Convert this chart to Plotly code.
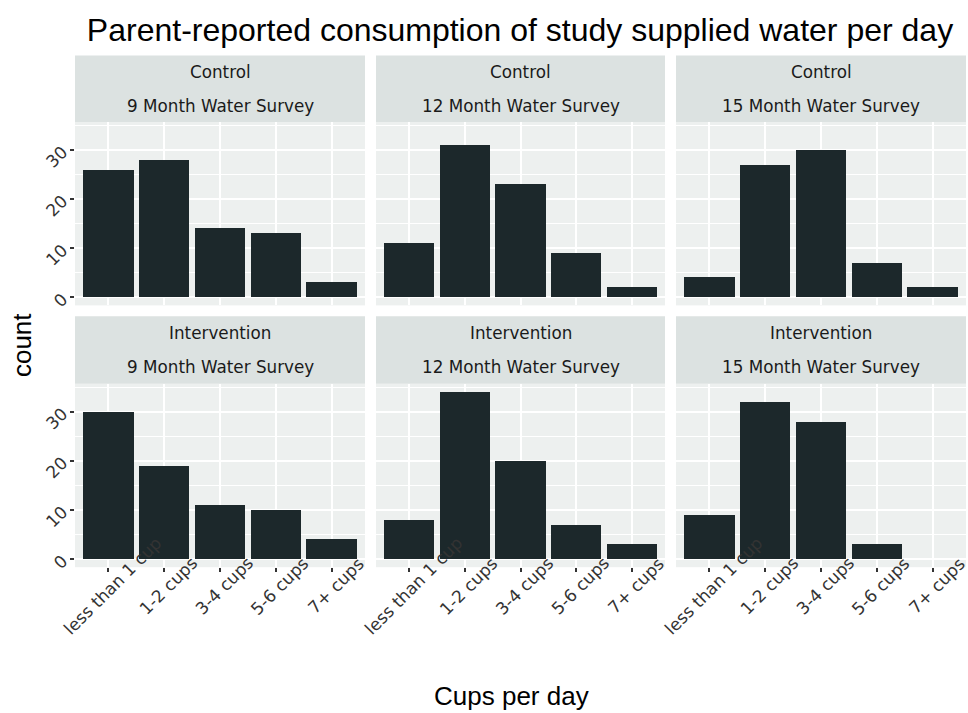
import plotly.graph_objects as go

# Categorías y conteos
categories = ["less than 1 cup", "1-2 cups", "3-4 cups", "5-6 cups", "7+ cups"]
surveys = ["9 Month Water Survey", "12 Month Water Survey", "15 Month Water Survey"]
groups = ["Control", "Intervention"]

control_9 = [26, 28, 14, 13, 3]
control_12 = [11, 31, 23, 9, 2]
control_15 = [4, 27, 30, 7, 2]
intervention_9 = [30, 19, 11, 10, 4]
intervention_12 = [8, 34, 20, 7, 3]
intervention_15 = [9, 32, 28, 3, None]

panels = [
    [control_9, control_12, control_15],
    [intervention_9, intervention_12, intervention_15],
]

W, H = 968, 713
BAR = "#1c282b"
PANEL_BG = "#edf0ef"
STRIP_BG = "#dce2e1"
TEXT = "#333333"

# Posiciones en píxeles de paneles y franjas
col_px = [(75, 365), (376, 665), (676, 966)]
row_px = [(123, 308), (387, 572)]
strip_px = [(56, 123), (319, 387)]


def px_x(p):
    return p / W


def px_y(p):
    return 1 - p / H


fig = go.Figure()
layout_axes = {}
shapes = []
annotations = []

for i, row in enumerate(panels):
    for j, values in enumerate(row):
        k = i * 3 + j + 1
        sfx = "" if k == 1 else str(k)
        fig.add_trace(go.Bar(
            x=categories, y=values, width=0.9,
            marker=dict(color=BAR, line=dict(width=0)),
            xaxis=f"x{sfx}", yaxis=f"y{sfx}", showlegend=False,
        ))
        bottom = i == 1
        left = j == 0
        layout_axes[f"xaxis{sfx}"] = dict(
            domain=[px_x(col_px[j][0]), px_x(col_px[j][1])],
            anchor=f"y{sfx}", type="category",
            categoryorder="array", categoryarray=categories,
            range=[-0.6, 4.6], showgrid=True, gridcolor="white", gridwidth=2,
            showticklabels=False, ticks="outside" if bottom else "",
            ticklen=4, tickwidth=1.5, tickcolor=TEXT, showline=False, zeroline=False,
        )
        layout_axes[f"yaxis{sfx}"] = dict(
            domain=[px_y(row_px[i][1]), px_y(row_px[i][0])],
            anchor=f"x{sfx}", range=[-1.7, 35.7], tick0=0, dtick=10,
            showgrid=True, gridcolor="white", gridwidth=2,
            minor=dict(tick0=0, dtick=5, showgrid=True, gridcolor="white", gridwidth=1),
            showticklabels=left, ticks="outside" if left else "",
            ticklen=4, tickwidth=1.5, tickcolor=TEXT, tickangle=-45,
            ticklabelstandoff=4,
            tickfont=dict(family="DejaVu Sans", size=17, color=TEXT),
            zeroline=False, showline=False,
        )

        # Franja del panel (facet strip)
        shapes.append(dict(
            type="rect", xref="paper", yref="paper",
            x0=px_x(col_px[j][0]), x1=px_x(col_px[j][1]),
            y0=px_y(strip_px[i][1]), y1=px_y(strip_px[i][0]),
            fillcolor=STRIP_BG, line=dict(width=0), layer="below",
        ))
        cx = px_x((col_px[j][0] + col_px[j][1]) / 2)
        for text, off in [(groups[i], 17), (surveys[j], 51)]:
            annotations.append(dict(
                text=text, x=cx, y=px_y(strip_px[i][0] + off),
                xref="paper", yref="paper", showarrow=False,
                xanchor="center", yanchor="middle",
                font=dict(family="DejaVu Sans", size=16.8, color="#1a1a1a"),
            ))

        # Etiquetas del eje x rotadas 45° y centradas en el tick
        if bottom:
            for c in categories:
                annotations.append(dict(
                    text=c, x=c, xref=f"x{sfx}", y=px_y(591), yref="paper",
                    showarrow=False, textangle=-45, xshift=4,
                    xanchor="center", yanchor="middle",
                    font=dict(family="DejaVu Sans", size=17, color=TEXT),
                ))

annotations.append(dict(
    text="Cups per day", x=px_x(511), y=px_y(702), xref="paper", yref="paper",
    showarrow=False, xanchor="center", yanchor="middle",
    font=dict(family="Liberation Sans", size=26, color="black"),
))
annotations.append(dict(
    text="count", x=px_x(22), y=px_y(348), xref="paper", yref="paper",
    showarrow=False, textangle=-90, xanchor="center", yanchor="middle",
    font=dict(family="Liberation Sans", size=26, color="black"),
))

fig.update_layout(
    **layout_axes,
    title=dict(text="Parent-reported consumption of study supplied water per day",
               x=px_x(520), xanchor="center", y=px_y(30), yanchor="middle",
               font=dict(family="Liberation Sans", size=32, color="black")),
    width=W, height=H, autosize=False,
    margin=dict(l=0, r=0, t=0, b=0),
    plot_bgcolor=PANEL_BG, paper_bgcolor="white",
    shapes=shapes, annotations=annotations,
    bargap=0,
)

# Quitar el margen del body para que la figura ocupe la ventana exacta
fig.write_html("out.html", config={"displayModeBar": False},
               post_script="document.body.style.margin='0';")
